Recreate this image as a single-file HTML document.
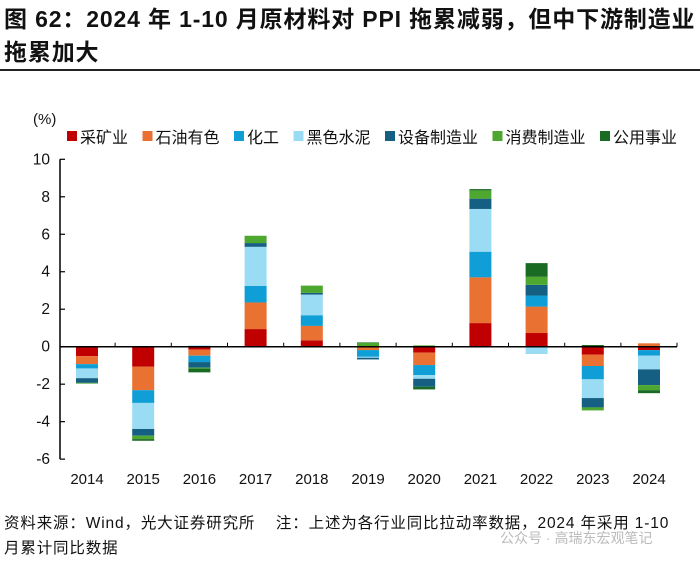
<!DOCTYPE html>
<html><head><meta charset="utf-8">
<style>
body{margin:0;background:#fff;width:700px;height:561px;overflow:hidden;font-family:"Liberation Sans","Noto Sans CJK SC",sans-serif;}
.t{position:absolute;left:4px;top:3px;font-size:23px;letter-spacing:0.85px;font-weight:bold;line-height:33px;color:#111;white-space:nowrap;}
.f{position:absolute;left:4px;font-size:15.5px;letter-spacing:0.85px;color:#111;white-space:nowrap;}
</style></head><body>
<div class="t">图 62：2024 年 1-10 月原材料对 PPI 拖累减弱，但中下游制造业<br>拖累加大</div>
<div style="position:absolute;left:0;top:69px;width:700px;height:2px;background:#222"></div>
<svg id="c" width="700" height="561" style="position:absolute;left:0;top:0"></svg>
<div class="f" style="top:511px">资料来源：Wind，光大证券研究所&nbsp;&nbsp;&nbsp;&nbsp;注：上述为各行业同比拉动率数据，2024 年采用 1-10</div>
<div class="f" style="top:536px">月累计同比数据</div>
<div class="f" style="top:528px;left:500px;color:#bbb;font-size:14px;letter-spacing:0">公众号 · 高瑞东宏观笔记</div>
<script>
const years=["2014","2015","2016","2017","2018","2019","2020","2021","2022","2023","2024"];
const seriesNames=["采矿业","石油有色","化工","黑色水泥","设备制造业","消费制造业","公用事业"];
const mining=[-0.5,-1.07,-0.16,0.94,0.34,0,-0.32,1.26,0.73,-0.43,-0.18];
const oil=[-0.43,-1.25,-0.32,1.42,0.77,-0.18,-0.66,2.44,1.41,-0.6,0.18];
const chem=[-0.23,-0.68,-0.34,0.89,0.57,-0.36,-0.53,1.37,0.59,-0.71,-0.3];
const steel=[-0.52,-1.39,0.07,2.08,1.1,-0.05,-0.2,2.28,-0.39,-1.0,-0.73];
const equip=[-0.25,-0.36,-0.3,0.2,0.09,-0.09,-0.43,0.55,0.57,-0.5,-0.84];
const consumer=[-0.04,-0.18,-0.05,0.39,0.39,0.2,0.07,0.44,0.43,-0.16,-0.27];
const utility=[0,-0.09,-0.2,0,0,0.03,-0.14,0.07,0.73,0.09,-0.16];
const yTicks=[10,8,6,4,2,0,-2,-4,-6];
const series=[mining,oil,chem,steel,equip,consumer,utility];
const colors=["#c00000","#e97132","#0f9ed5","#9bdcf5","#156082","#4ea72e","#196b24"];
const NS="http://www.w3.org/2000/svg",svg=document.getElementById("c");
const y=v=>346.7-v*18.74, x=i=>87+i*56.2;
function el(t,a,txt){const e=document.createElementNS(NS,t);for(const k in a)e.setAttribute(k,a[k]);if(txt!=null)e.textContent=txt;svg.appendChild(e);return e;}
years.forEach((yr,i)=>{let p=0,n=0;series.forEach((s,j)=>{const v=s[i];if(!v)return;let top,bot;if(v>0){top=y(p+v);bot=y(p);p+=v;}else{top=y(n);bot=y(n+v);n+=v;}
const r=el("rect",{x:x(i)-11,y:top,width:22,height:bot-top,fill:colors[j]});

});
const t=el("text",{x:x(i),y:484,"font-size":15,"text-anchor":"middle",fill:"#111"},yr);


if(i<years.length-1){el("line",{x1:x(i)+28.1,x2:x(i)+28.1,y1:y(0)-4,y2:y(0),stroke:"#000","stroke-width":1});}
});
el("line",{x1:60,x2:60,y1:y(10),y2:y(-6),stroke:"#000","stroke-width":1.5});
el("line",{x1:60,x2:677,y1:y(0),y2:y(0),stroke:"#000","stroke-width":1.5});
el("line",{x1:677,x2:677,y1:y(0)-4,y2:y(0),stroke:"#000","stroke-width":1});
yTicks.forEach(v=>{el("line",{x1:60,x2:65,y1:y(v),y2:y(v),stroke:"#000","stroke-width":1.2});
const t=el("text",{x:50,y:y(v)+5,"font-size":15.5,"text-anchor":"end",fill:"#111"},v);

});
const u=el("text",{x:33,y:124,"font-size":15,fill:"#111"},"(%)");


let lx=67;seriesNames.forEach((nm,j)=>{el("rect",{x:lx,y:131,width:10,height:10,fill:colors[j]});
const t=el("text",{x:lx+13,y:143,"font-size":16,fill:"#111"},nm);


lx+=13+nm.length*16+14.5;});
</script>
</body></html>
